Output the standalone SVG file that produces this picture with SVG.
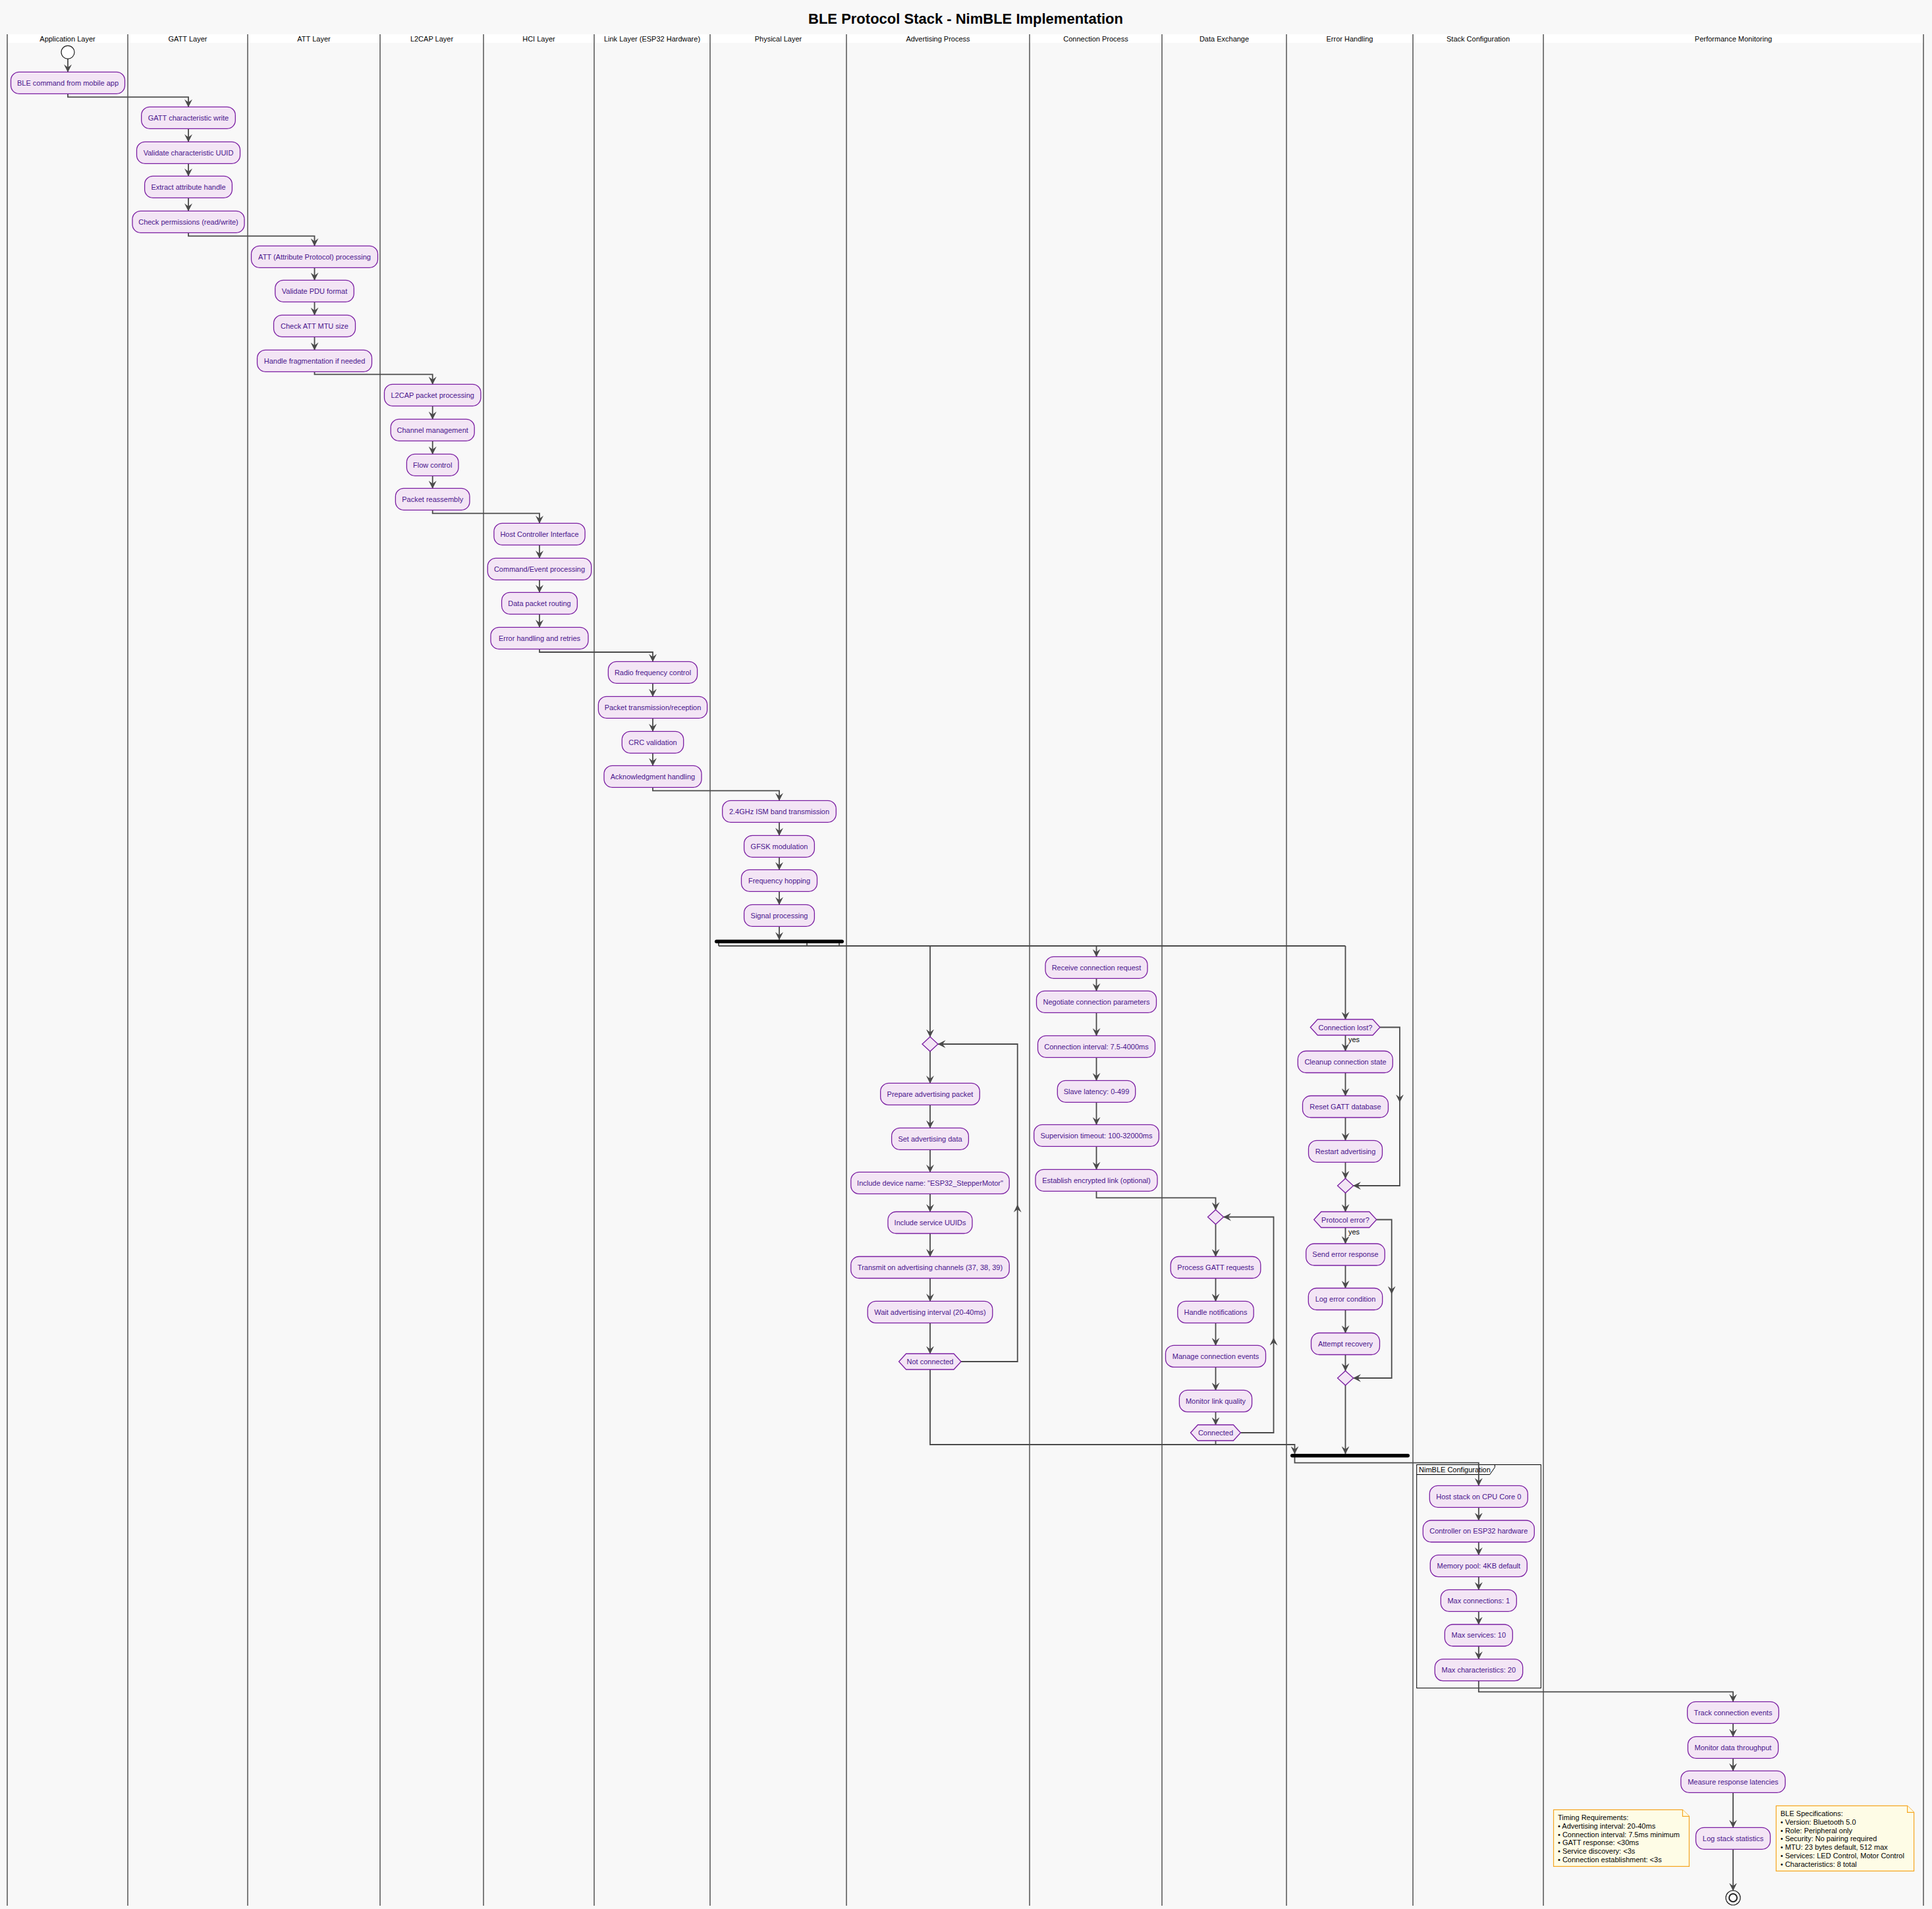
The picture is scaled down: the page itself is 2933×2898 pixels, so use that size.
<svg xmlns="http://www.w3.org/2000/svg" width="2933" height="2898" viewBox="0 0 2933 2898">
<style>
text{font-family:"Liberation Sans",Arial,sans-serif;font-size:11px}
.title{font-size:22px;font-weight:bold;fill:#000;text-anchor:middle}
.hdr{fill:#000;text-anchor:middle}
.lane{stroke:#000;stroke-width:1}
.act rect,.act polygon{fill:#F3E5F5;stroke:#7B1FA2;stroke-width:1.3}
.act text{fill:#4A148C;text-anchor:middle}
.conn path{fill:none;stroke:#4a4a4a;stroke-width:1.8}
.bar{fill:#000}
.note path{fill:#FEFCE6;stroke:#F5A623;stroke-width:1.2}
.note text{fill:#000}
.lbl{fill:#000}
</style>
<defs>
<marker id="ah" viewBox="0 0 12 12" refX="11.5" refY="6" markerWidth="12" markerHeight="12" markerUnits="userSpaceOnUse" orient="auto">
<path d="M0,0 L12,6 L0,12 L4.5,6 Z" fill="#4a4a4a"/>
</marker>
</defs>
<rect x="0" y="0" width="2933" height="2898" fill="#F8F8F8"/>
<text class="title" x="1466" y="36">BLE Protocol Stack - NimBLE Implementation</text>
<g id="lanes">
<rect x="11" y="52" width="2909" height="13" fill="#FFFFFF"/>
<path class="lane" d="M11,52V2893M194,52V2893M376,52V2893M577,52V2893M734,52V2893M902,52V2893M1078,52V2893M1285,52V2893M1563,52V2893M1764,52V2893M1953,52V2893M2145,52V2893M2343,52V2893M2920,52V2893"/>
<text class="hdr" x="102.5" y="63">Application Layer</text>
<text class="hdr" x="285" y="63">GATT Layer</text>
<text class="hdr" x="476.5" y="63">ATT Layer</text>
<text class="hdr" x="655.5" y="63">L2CAP Layer</text>
<text class="hdr" x="818" y="63">HCI Layer</text>
<text class="hdr" x="990" y="63">Link Layer (ESP32 Hardware)</text>
<text class="hdr" x="1181.5" y="63">Physical Layer</text>
<text class="hdr" x="1424" y="63">Advertising Process</text>
<text class="hdr" x="1663.5" y="63">Connection Process</text>
<text class="hdr" x="1858.5" y="63">Data Exchange</text>
<text class="hdr" x="2049" y="63">Error Handling</text>
<text class="hdr" x="2244" y="63">Stack Configuration</text>
<text class="hdr" x="2631.5" y="63">Performance Monitoring</text>
</g>
<g id="partition">
<rect x="2150.7" y="2223.5" width="188.6" height="339.1" fill="none" stroke="#000" stroke-width="1"/>
<path d="M2150.7,2238.5 H2261.7 L2269.3,2227.5 V2223.5" fill="none" stroke="#000" stroke-width="1"/>
<text class="lbl" x="2154" y="2235">NimBLE Configuration</text>
</g>
<g class="conn" id="connectors">
<path d="M103,89.3V109.3" marker-end="url(#ah)"/>
<path d="M103,142.3V147.3H286V162.3" marker-end="url(#ah)"/>
<path d="M286,195.3V215.3" marker-end="url(#ah)"/>
<path d="M286,248.3V267.3" marker-end="url(#ah)"/>
<path d="M286,300.3V320.3" marker-end="url(#ah)"/>
<path d="M286,353.3V358.3H477.5V373.3" marker-end="url(#ah)"/>
<path d="M477.5,406.3V425.3" marker-end="url(#ah)"/>
<path d="M477.5,458.3V478.3" marker-end="url(#ah)"/>
<path d="M477.5,511.3V531.3" marker-end="url(#ah)"/>
<path d="M477.5,564.3V568.3H656.7V583.3" marker-end="url(#ah)"/>
<path d="M656.7,616.3V636.3" marker-end="url(#ah)"/>
<path d="M656.7,669.3V689.3" marker-end="url(#ah)"/>
<path d="M656.7,722.3V741.3" marker-end="url(#ah)"/>
<path d="M656.7,774.3V779.3H819V794.3" marker-end="url(#ah)"/>
<path d="M819,827.3V847.3" marker-end="url(#ah)"/>
<path d="M819,880.3V899.3" marker-end="url(#ah)"/>
<path d="M819,932.3V952.3" marker-end="url(#ah)"/>
<path d="M819,985.3V990H991V1004.3" marker-end="url(#ah)"/>
<path d="M991,1037.3V1057.3" marker-end="url(#ah)"/>
<path d="M991,1090.3V1110.3" marker-end="url(#ah)"/>
<path d="M991,1143.3V1162.3" marker-end="url(#ah)"/>
<path d="M991,1195.3V1200.3H1183V1215.3" marker-end="url(#ah)"/>
<path d="M1183,1248.3V1268.3" marker-end="url(#ah)"/>
<path d="M1183,1301.3V1320.3" marker-end="url(#ah)"/>
<path d="M1183,1353.3V1373.3" marker-end="url(#ah)"/>
<path d="M1183,1406.3V1426.5" marker-end="url(#ah)"/>
<path d="M1091,1432V1436M1225,1432V1436M1274,1432V1436M1091,1436H2042.5"/>
<path d="M1412,1436V1574" marker-end="url(#ah)"/>
<path d="M1664.5,1436V1452.3" marker-end="url(#ah)"/>
<path d="M2042.5,1436V1547.5" marker-end="url(#ah)"/>
<path d="M1412,1596V1644.4" marker-end="url(#ah)"/>
<path d="M1412,1677.4V1712.3" marker-end="url(#ah)"/>
<path d="M1412,1745.3V1779.4" marker-end="url(#ah)"/>
<path d="M1412,1812.4V1839.5" marker-end="url(#ah)"/>
<path d="M1412,1872.5V1907.5" marker-end="url(#ah)"/>
<path d="M1412,1940.5V1975.4" marker-end="url(#ah)"/>
<path d="M1412,2008.4V2055" marker-end="url(#ah)"/>
<path d="M1459,2067H1544.7V1829" marker-end="url(#ah)"/>
<path d="M1544.7,1829V1585H1424" marker-end="url(#ah)"/>
<path d="M1412,2079V2193H1965.5V2207" marker-end="url(#ah)"/>
<path d="M1664.5,1485.3V1504.3" marker-end="url(#ah)"/>
<path d="M1664.5,1537.3V1572.3" marker-end="url(#ah)"/>
<path d="M1664.5,1605.3V1640.3" marker-end="url(#ah)"/>
<path d="M1664.5,1673.3V1707.3" marker-end="url(#ah)"/>
<path d="M1664.5,1740.3V1775.3" marker-end="url(#ah)"/>
<path d="M1664.5,1808.3V1818.4H1845.5V1836.5" marker-end="url(#ah)"/>
<path d="M1845.5,1858.5V1907.5" marker-end="url(#ah)"/>
<path d="M1845.5,1940.5V1975.4" marker-end="url(#ah)"/>
<path d="M1845.5,2008.4V2042.4" marker-end="url(#ah)"/>
<path d="M1845.5,2075.4V2110.4" marker-end="url(#ah)"/>
<path d="M1845.5,2143.4V2163" marker-end="url(#ah)"/>
<path d="M1883.4,2175H1933.5V2031" marker-end="url(#ah)"/>
<path d="M1933.5,2031V1847.5H1857.5" marker-end="url(#ah)"/>
<path d="M1845.5,2187V2193"/>
<path d="M2042.5,1571.5V1595.5" marker-end="url(#ah)"/>
<path d="M2042.5,1628.5V1663.5" marker-end="url(#ah)"/>
<path d="M2042.5,1696.5V1731.3" marker-end="url(#ah)"/>
<path d="M2042.5,1764.3V1789" marker-end="url(#ah)"/>
<path d="M2095,1559.5H2125V1673" marker-end="url(#ah)"/>
<path d="M2125,1673V1800H2054.5" marker-end="url(#ah)"/>
<path d="M2042.5,1811V1839.5" marker-end="url(#ah)"/>
<path d="M2042.5,1863.5V1888" marker-end="url(#ah)"/>
<path d="M2042.5,1921V1955.5" marker-end="url(#ah)"/>
<path d="M2042.5,1988.5V2023.5" marker-end="url(#ah)"/>
<path d="M2042.5,2056.5V2081" marker-end="url(#ah)"/>
<path d="M2089.7,1851.5H2112.7V1964" marker-end="url(#ah)"/>
<path d="M2112.7,1964V2092H2054.5" marker-end="url(#ah)"/>
<path d="M2042.5,2103V2207" marker-end="url(#ah)"/>
<path d="M1965.5,2212V2220.7H2244.8V2255.3" marker-end="url(#ah)"/>
<path d="M2244.8,2288.3V2308" marker-end="url(#ah)"/>
<path d="M2244.8,2341V2360.6" marker-end="url(#ah)"/>
<path d="M2244.8,2393.6V2413.3" marker-end="url(#ah)"/>
<path d="M2244.8,2446.3V2466" marker-end="url(#ah)"/>
<path d="M2244.8,2499V2518.6" marker-end="url(#ah)"/>
<path d="M2244.8,2551.6V2568.3H2631V2583.3" marker-end="url(#ah)"/>
<path d="M2631,2616.3V2636.3" marker-end="url(#ah)"/>
<path d="M2631,2669.3V2688.3" marker-end="url(#ah)"/>
<path d="M2631,2721.3V2774.3" marker-end="url(#ah)"/>
<path d="M2631,2807.3V2870" marker-end="url(#ah)"/>
</g>
<g id="start"><circle cx="103" cy="79.3" r="10" fill="#FFFFFF" stroke="#222" stroke-width="1.2"/></g>
<g id="end"><circle cx="2631" cy="2881" r="11" fill="#FFFFFF" stroke="#222" stroke-width="1.2"/><circle cx="2631" cy="2881" r="6" fill="#FFFFFF" stroke="#222" stroke-width="2"/></g>
<g id="fork"><rect class="bar" x="1085" y="1426.5" width="196" height="5.5" rx="2.75"/></g>
<g id="join"><rect class="bar" x="1959" y="2207" width="181" height="5.5" rx="2.75"/></g>
<g class="act" id="n1"><rect x="16.5" y="109.3" width="173" height="33" rx="12.5"/><text x="103" y="129.6">BLE command from mobile app</text></g>
<g class="act" id="n2"><rect x="214.7" y="162.3" width="142.6" height="33" rx="12.5"/><text x="286" y="182.6">GATT characteristic write</text></g>
<g class="act" id="n3"><rect x="207.5" y="215.3" width="157" height="33" rx="12.5"/><text x="286" y="235.6">Validate characteristic UUID</text></g>
<g class="act" id="n4"><rect x="219.6" y="267.3" width="132.8" height="33" rx="12.5"/><text x="286" y="287.6">Extract attribute handle</text></g>
<g class="act" id="n5"><rect x="201" y="320.3" width="170" height="33" rx="12.5"/><text x="286" y="340.6">Check permissions (read/write)</text></g>
<g class="act" id="n6"><rect x="381.5" y="373.3" width="192" height="33" rx="12.5"/><text x="477.5" y="393.6">ATT (Attribute Protocol) processing</text></g>
<g class="act" id="n7"><rect x="417.7" y="425.3" width="119.6" height="33" rx="12.5"/><text x="477.5" y="445.6">Validate PDU format</text></g>
<g class="act" id="n8"><rect x="415.5" y="478.3" width="124" height="33" rx="12.5"/><text x="477.5" y="498.6">Check ATT MTU size</text></g>
<g class="act" id="n9"><rect x="390.5" y="531.3" width="174" height="33" rx="12.5"/><text x="477.5" y="551.6">Handle fragmentation if needed</text></g>
<g class="act" id="n10"><rect x="583.5" y="583.3" width="146.4" height="33" rx="12.5"/><text x="656.7" y="603.6">L2CAP packet processing</text></g>
<g class="act" id="n11"><rect x="593.2" y="636.3" width="127" height="33" rx="12.5"/><text x="656.7" y="656.6">Channel management</text></g>
<g class="act" id="n12"><rect x="617.4" y="689.3" width="78.6" height="33" rx="12.5"/><text x="656.7" y="709.6">Flow control</text></g>
<g class="act" id="n13"><rect x="600.4" y="741.3" width="112.6" height="33" rx="12.5"/><text x="656.7" y="761.6">Packet reassembly</text></g>
<g class="act" id="n14"><rect x="749.9" y="794.3" width="138.2" height="33" rx="12.5"/><text x="819" y="814.6">Host Controller Interface</text></g>
<g class="act" id="n15"><rect x="740.3" y="847.3" width="157.4" height="33" rx="12.5"/><text x="819" y="867.6">Command/Event processing</text></g>
<g class="act" id="n16"><rect x="761.6" y="899.3" width="114.8" height="33" rx="12.5"/><text x="819" y="919.6">Data packet routing</text></g>
<g class="act" id="n17"><rect x="745" y="952.3" width="148" height="33" rx="12.5"/><text x="819" y="972.6">Error handling and retries</text></g>
<g class="act" id="n18"><rect x="923.4" y="1004.3" width="135.2" height="33" rx="12.5"/><text x="991" y="1024.6">Radio frequency control</text></g>
<g class="act" id="n19"><rect x="908.4" y="1057.3" width="165.2" height="33" rx="12.5"/><text x="991" y="1077.6">Packet transmission/reception</text></g>
<g class="act" id="n20"><rect x="944.3" y="1110.3" width="93.4" height="33" rx="12.5"/><text x="991" y="1130.6">CRC validation</text></g>
<g class="act" id="n21"><rect x="917" y="1162.3" width="148" height="33" rx="12.5"/><text x="991" y="1182.6">Acknowledgment handling</text></g>
<g class="act" id="n22"><rect x="1096.7" y="1215.3" width="172.6" height="33" rx="12.5"/><text x="1183" y="1235.6">2.4GHz ISM band transmission</text></g>
<g class="act" id="n23"><rect x="1129.6" y="1268.3" width="106.8" height="33" rx="12.5"/><text x="1183" y="1288.6">GFSK modulation</text></g>
<g class="act" id="n24"><rect x="1125.5" y="1320.3" width="115" height="33" rx="12.5"/><text x="1183" y="1340.6">Frequency hopping</text></g>
<g class="act" id="n25"><rect x="1129.6" y="1373.3" width="106.8" height="33" rx="12.5"/><text x="1183" y="1393.6">Signal processing</text></g>
<g class="act" id="adv-merge"><polygon points="1412,1574 1424,1585 1412,1596 1400,1585"/></g>
<g class="act" id="a1"><rect x="1336.7" y="1644.4" width="150.6" height="33" rx="12.5"/><text x="1412" y="1664.7">Prepare advertising packet</text></g>
<g class="act" id="a2"><rect x="1353.6" y="1712.3" width="116.8" height="33" rx="12.5"/><text x="1412" y="1732.6">Set advertising data</text></g>
<g class="act" id="a3"><rect x="1291.8" y="1779.4" width="240.4" height="33" rx="12.5"/><text x="1412" y="1799.7">Include device name: "ESP32_StepperMotor"</text></g>
<g class="act" id="a4"><rect x="1348" y="1839.5" width="128" height="33" rx="12.5"/><text x="1412" y="1859.8">Include service UUIDs</text></g>
<g class="act" id="a5"><rect x="1291.8" y="1907.5" width="240.4" height="33" rx="12.5"/><text x="1412" y="1927.8">Transmit on advertising channels (37, 38, 39)</text></g>
<g class="act" id="a6"><rect x="1317.2" y="1975.4" width="189.6" height="33" rx="12.5"/><text x="1412" y="1995.7">Wait advertising interval (20-40ms)</text></g>
<g class="act" id="a-hex"><polygon points="1364.6,2067 1375.6,2055 1448,2055 1459,2067 1448,2079 1375.6,2079"/><text x="1412" y="2071">Not connected</text></g>
<g class="act" id="c1"><rect x="1587" y="1452.3" width="155" height="33" rx="12.5"/><text x="1664.5" y="1472.6">Receive connection request</text></g>
<g class="act" id="c2"><rect x="1573.5" y="1504.3" width="182" height="33" rx="12.5"/><text x="1664.5" y="1524.6">Negotiate connection parameters</text></g>
<g class="act" id="c3"><rect x="1575.5" y="1572.3" width="178" height="33" rx="12.5"/><text x="1664.5" y="1592.6">Connection interval: 7.5-4000ms</text></g>
<g class="act" id="c4"><rect x="1605.3" y="1640.3" width="118.4" height="33" rx="12.5"/><text x="1664.5" y="1660.6">Slave latency: 0-499</text></g>
<g class="act" id="c5"><rect x="1569.7" y="1707.3" width="189.6" height="33" rx="12.5"/><text x="1664.5" y="1727.6">Supervision timeout: 100-32000ms</text></g>
<g class="act" id="c6"><rect x="1572" y="1775.3" width="185" height="33" rx="12.5"/><text x="1664.5" y="1795.6">Establish encrypted link (optional)</text></g>
<g class="act" id="d-merge"><polygon points="1845.5,1836.5 1857.5,1847.5 1845.5,1858.5 1833.5,1847.5"/></g>
<g class="act" id="d1"><rect x="1777.2" y="1907.5" width="136.6" height="33" rx="12.5"/><text x="1845.5" y="1927.8">Process GATT requests</text></g>
<g class="act" id="d2"><rect x="1787.8" y="1975.4" width="115.4" height="33" rx="12.5"/><text x="1845.5" y="1995.7">Handle notifications</text></g>
<g class="act" id="d3"><rect x="1769.5" y="2042.4" width="152" height="33" rx="12.5"/><text x="1845.5" y="2062.7">Manage connection events</text></g>
<g class="act" id="d4"><rect x="1790.4" y="2110.4" width="110.2" height="33" rx="12.5"/><text x="1845.5" y="2130.7">Monitor link quality</text></g>
<g class="act" id="d-hex"><polygon points="1807.4,2175 1818.4,2163 1872.4,2163 1883.4,2175 1872.4,2187 1818.4,2187"/><text x="1845.5" y="2179">Connected</text></g>
<g class="act" id="e-hex1"><polygon points="1989.3,1559.5 2000.3,1547.5 2084,1547.5 2095,1559.5 2084,1571.5 2000.3,1571.5"/><text x="2042.5" y="1563.5">Connection lost?</text></g>
<text class="lbl" x="2047" y="1582">yes</text>
<g class="act" id="e1"><rect x="1970.3" y="1595.5" width="144" height="33" rx="12.5"/><text x="2042.5" y="1615.8">Cleanup connection state</text></g>
<g class="act" id="e2"><rect x="1977.5" y="1663.5" width="130" height="33" rx="12.5"/><text x="2042.5" y="1683.8">Reset GATT database</text></g>
<g class="act" id="e3"><rect x="1986.5" y="1731.3" width="112" height="33" rx="12.5"/><text x="2042.5" y="1751.6">Restart advertising</text></g>
<g class="act" id="e-merge1"><polygon points="2042.5,1789 2054.5,1800 2042.5,1811 2030.5,1800"/></g>
<g class="act" id="e-hex2"><polygon points="1994.7,1851.5 2005.7,1839.5 2078.7,1839.5 2089.7,1851.5 2078.7,1863.5 2005.7,1863.5"/><text x="2042.5" y="1855.5">Protocol error?</text></g>
<text class="lbl" x="2047" y="1874">yes</text>
<g class="act" id="e4"><rect x="1982.7" y="1888" width="119.6" height="33" rx="12.5"/><text x="2042.5" y="1908.3">Send error response</text></g>
<g class="act" id="e5"><rect x="1986.3" y="1955.5" width="112.4" height="33" rx="12.5"/><text x="2042.5" y="1975.8">Log error condition</text></g>
<g class="act" id="e6"><rect x="1990.5" y="2023.5" width="104" height="33" rx="12.5"/><text x="2042.5" y="2043.8">Attempt recovery</text></g>
<g class="act" id="e-merge2"><polygon points="2042.5,2081 2054.5,2092 2042.5,2103 2030.5,2092"/></g>
<g class="act" id="s1"><rect x="2170.3" y="2255.3" width="149" height="33" rx="12.5"/><text x="2244.8" y="2275.6">Host stack on CPU Core 0</text></g>
<g class="act" id="s2"><rect x="2160.3" y="2308" width="169" height="33" rx="12.5"/><text x="2244.8" y="2328.3">Controller on ESP32 hardware</text></g>
<g class="act" id="s3"><rect x="2171.3" y="2360.6" width="147" height="33" rx="12.5"/><text x="2244.8" y="2380.9">Memory pool: 4KB default</text></g>
<g class="act" id="s4"><rect x="2187.3" y="2413.3" width="115" height="33" rx="12.5"/><text x="2244.8" y="2433.6">Max connections: 1</text></g>
<g class="act" id="s5"><rect x="2193.3" y="2466" width="103" height="33" rx="12.5"/><text x="2244.8" y="2486.3">Max services: 10</text></g>
<g class="act" id="s6"><rect x="2178.3" y="2518.6" width="133.4" height="33" rx="12.5"/><text x="2244.8" y="2538.9">Max characteristics: 20</text></g>
<g class="act" id="p1"><rect x="2561.6" y="2583.3" width="138.8" height="33" rx="12.5"/><text x="2631" y="2603.6">Track connection events</text></g>
<g class="act" id="p2"><rect x="2562.4" y="2636.3" width="137.2" height="33" rx="12.5"/><text x="2631" y="2656.6">Monitor data throughput</text></g>
<g class="act" id="p3"><rect x="2551.8" y="2688.3" width="158.4" height="33" rx="12.5"/><text x="2631" y="2708.6">Measure response latencies</text></g>
<g class="act" id="p4"><rect x="2574.5" y="2774.3" width="113" height="33" rx="12.5"/><text x="2631" y="2794.6">Log stack statistics</text></g>
<g class="note" id="note-timing">
<path d="M2358.5,2747.3 H2554.4 L2564.4,2757.3 V2833.3 H2358.5 Z"/>
<path d="M2554.4,2747.3 V2757.3 H2564.4"/>
<text x="2365" y="2763">Timing Requirements:</text>
<text x="2365" y="2775.8">• Advertising interval: 20-40ms</text>
<text x="2365" y="2788.6">• Connection interval: 7.5ms minimum</text>
<text x="2365" y="2801.4">• GATT response: &lt;30ms</text>
<text x="2365" y="2814.2">• Service discovery: &lt;3s</text>
<text x="2365" y="2827">• Connection establishment: &lt;3s</text>
</g>
<g class="note" id="note-spec">
<path d="M2696.4,2741.3 H2895.6 L2905.6,2751.3 V2840.3 H2696.4 Z"/>
<path d="M2895.6,2741.3 V2751.3 H2905.6"/>
<text x="2703" y="2757">BLE Specifications:</text>
<text x="2703" y="2769.8">• Version: Bluetooth 5.0</text>
<text x="2703" y="2782.6">• Role: Peripheral only</text>
<text x="2703" y="2795.4">• Security: No pairing required</text>
<text x="2703" y="2808.2">• MTU: 23 bytes default, 512 max</text>
<text x="2703" y="2821">• Services: LED Control, Motor Control</text>
<text x="2703" y="2833.8">• Characteristics: 8 total</text>
</g>
</svg>
